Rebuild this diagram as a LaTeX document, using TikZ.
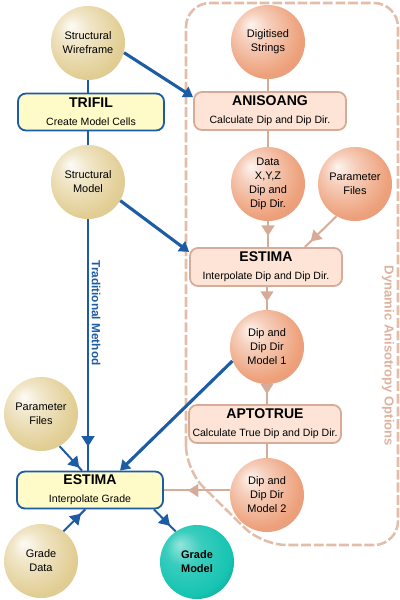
\documentclass[tikz,border=0pt]{standalone}
\usepackage{fontspec}
\setmainfont{Liberation Sans}
\usetikzlibrary{arrows.meta,decorations.markings,positioning,calc}

\definecolor{tradblue}{RGB}{28,92,165}
\definecolor{boxyellow}{RGB}{255,251,200}
\definecolor{sand}{RGB}{226,206,148}
\definecolor{peach}{RGB}{237,160,122}
\definecolor{gradeteal}{RGB}{22,196,178}
\definecolor{shadegray}{RGB}{150,146,170}
\definecolor{tanline}{RGB}{214,172,152}
\definecolor{tanfill}{RGB}{253,228,214}
\definecolor{tanframe}{RGB}{226,190,170}
\definecolor{tanlabel}{RGB}{222,178,158}

% sphere shadings
\pgfdeclareradialshading{sandball}{\pgfpoint{-12bp}{12bp}}{color(0bp)=(sand!8!white); color(10bp)=(sand!50!white); color(28bp)=(sand); color(40bp)=(sand!80!shadegray); color(50bp)=(sand!45!shadegray)}
\pgfdeclareradialshading{peachball}{\pgfpoint{-12bp}{12bp}}{color(0bp)=(peach!12!white); color(10bp)=(peach!50!white); color(28bp)=(peach); color(40bp)=(peach!80!shadegray); color(50bp)=(peach!45!shadegray)}
\pgfdeclareradialshading{tealball}{\pgfpoint{-12bp}{12bp}}{color(0bp)=(gradeteal!45!white); color(12bp)=(gradeteal!85!white); color(28bp)=(gradeteal); color(40bp)=(gradeteal!65!black); color(50bp)=(gradeteal!35!black)}

\newcommand{\spherefont}{\fontsize{7.8}{10}\selectfont}
\newcommand{\boxtitle}{\fontsize{10}{11}\selectfont\bfseries}
\newcommand{\boxsub}{\fontsize{7.5}{9}\selectfont\mdseries}

\tikzset{
  sphere/.style={circle, minimum size=1.85cm, inner sep=0pt, align=center, font=\spherefont},
  sandsphere/.style={sphere, shading=sandball},
  peachsphere/.style={sphere, shading=peachball},
  tealsphere/.style={sphere, shading=tealball, font=\spherefont\bfseries},
  bluebox/.style={rectangle, rounded corners=0.2cm, draw=tradblue, line width=1.3pt, fill=boxyellow,
    minimum width=3.65cm, minimum height=0.925cm, inner sep=0pt, align=center},
  tanbox/.style={bluebox, draw=tanline, fill=tanfill, minimum width=3.8cm, minimum height=0.95cm},
  blueline/.style={draw=tradblue, line width=1.4pt},
  bluearrow/.style={draw=tradblue, line width=2.2pt, -{Triangle[length=2.4mm,width=3mm]}},
  tanconn/.style={draw=tanline, line width=1.4pt},
  tipat/.style={postaction={decorate}, decoration={markings,
    mark=at position #1 with {\arrow{Triangle[length=2.6mm,width=3.2mm]}}}},
}

\begin{document}
\begin{tikzpicture}[x=0.025cm, y=-0.025cm]
  \useasboundingbox (0,0) rectangle (400,600);

  % Dynamic anisotropy frame
  \draw[tanframe, line width=1.8pt, dash pattern=on 7pt off 2pt, rounded corners=0.6cm]
    (186,470) -- (186,3) -- (398,3) -- (398,545) -- (262,545) -- cycle;
  \node[rotate=-90, text=tanlabel, font=\fontsize{9.3}{10}\selectfont\bfseries] (dynlabel) at (388,356) {Dynamic Anisotropy Options};

  % Traditional column
  \node[sandsphere] (wire) at (88,43) {Structural\\Wireframe};
  \node[bluebox] (trifil) at (91,112) {\boxtitle TRIFIL\\[1pt]\boxsub Create Model Cells};
  \node[sandsphere] (smodel) at (88,182) {Structural\\Model};
  \node[sandsphere] (paraml) at (41,414) {Parameter\\Files};
  \node[bluebox] (estgrade) at (90,490) {\boxtitle ESTIMA\\[1pt]\boxsub Interpolate Grade};
  \node[sandsphere] (gdata) at (41,561) {Grade\\Data};
  \node[tealsphere] (gmodel) at (197,562) {Grade\\Model};
  \node[rotate=-90, text=tradblue, font=\fontsize{8.4}{9}\selectfont\bfseries] (tradlabel) at (96,313) {Traditional Method};

  % Anisotropy column
  \node[peachsphere] (digit) at (268,42) {Digitised\\Strings};
  \node[tanbox] (aniso) at (270,111) {\boxtitle ANISOANG\\[1pt]\boxsub Calculate Dip and Dip Dir.};
  \node[peachsphere] (data) at (268,184) {Data\\X,Y,Z\\Dip and\\Dip Dir.};
  \node[peachsphere] (paramr) at (355,184) {Parameter\\Files};
  \node[tanbox] (estdip) at (266,267) {\boxtitle ESTIMA\\[1pt]\boxsub Interpolate Dip and Dip Dir.};
  \node[peachsphere] (model1) at (267,347) {Dip and\\Dip Dir\\Model 1};
  \node[tanbox] (aptotrue) at (265,424) {\boxtitle APTOTRUE\\[1pt]\boxsub Calculate True Dip and Dip Dir.};
  \node[peachsphere] (model2) at (267,495) {Dip and\\Dip Dir\\Model 2};

  % Blue connectors
  \draw[blueline] (wire) -- (wire |- trifil.north);
  \draw[blueline] (trifil.south -| smodel) -- (smodel);
  \draw[blueline, tipat=-0.6cm] (smodel) -- (smodel |- estgrade.north);
  \draw[blueline, tipat=-0.1cm] (paraml.-60) -- ([xshift=-0.2cm]estgrade.north);
  \draw[blueline, tipat=-0.15cm] (gdata.53) -- ([xshift=-0.12cm]estgrade.south);
  \draw[blueline, tipat=-0.2cm] ([xshift=-0.25cm]estgrade.south east) -- (gmodel.125);
  \draw[bluearrow] (wire.-15) -- ([yshift=-0.15cm]aniso.north west);
  \draw[bluearrow] (smodel.-30) -- ([yshift=-0.12cm]estdip.north west);
  \draw[bluearrow] (model1.-158) -- ([xshift=0.75cm]estgrade.north);

  % Tan connectors
  \draw[tanconn] (digit) -- (digit |- aniso.north);
  \draw[tanconn] (aniso.south -| data) -- (data);
  \draw[tanconn, tipat=-0.28cm] (data) -- (data |- estdip.north);
  \draw[tanconn, tipat=-0.2cm] (paramr.-120) -- ([xshift=-0.95cm]estdip.north east);
  \draw[tanconn, tipat=-0.2cm] (estdip.south -| model1) -- (model1);
  \draw[tanconn, tipat=-0.25cm] (model1) -- (model1 |- aptotrue.north);
  \draw[tanconn] (aptotrue.south -| model2) -- (model2);
  \draw[tanconn, tipat=-0.6cm] (model2.173) -- (model2.173 -| estgrade.east);

\end{tikzpicture}
\end{document}
